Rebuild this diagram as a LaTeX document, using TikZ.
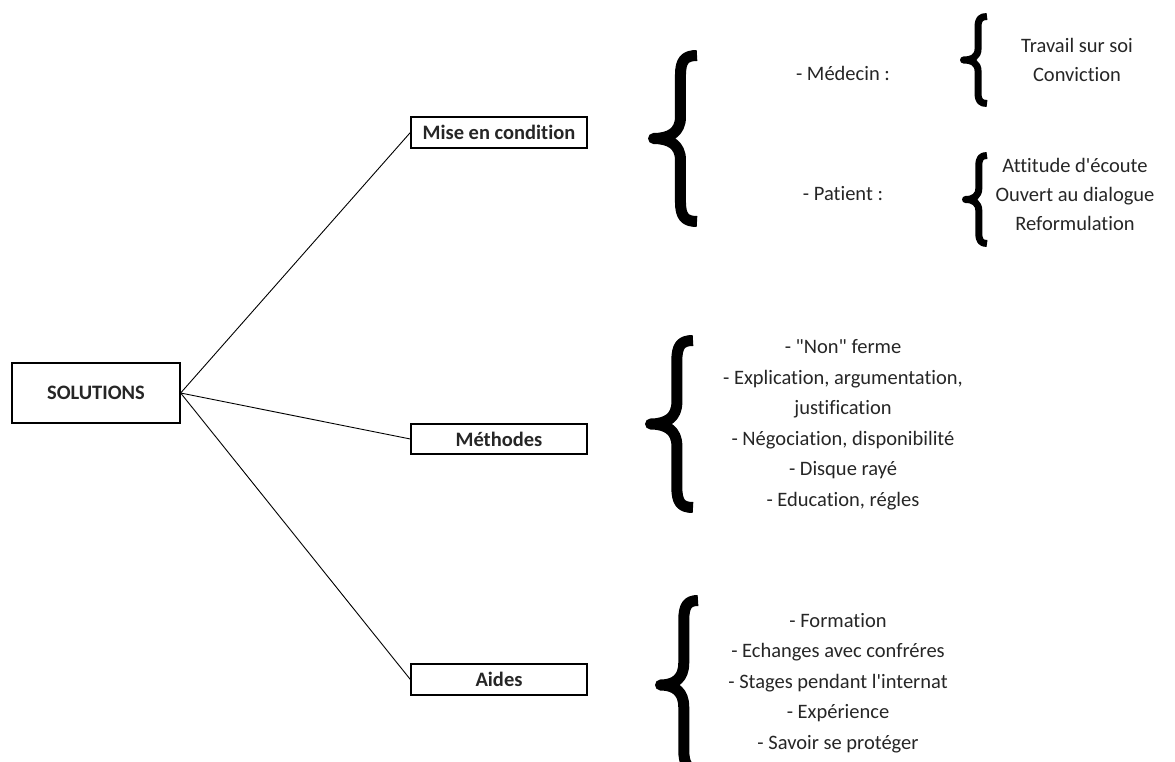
\documentclass[tikz,border=0pt]{standalone}
\usepackage{fontspec}
\newfontfamily\cf{Carlito}[Ligatures=NoCommon]
\definecolor{txt}{HTML}{262626}
\newcommand\drawbrace[5]{%
  \begin{scope}[shift={(#1,#2)}, xscale=#3, yscale=#4]
    \draw[bracestroke, line width=#5pt] (1,0) .. controls (0.72,0) and (0.62,0.03) .. (0.62,0.12)
      -- (0.62,0.37) .. controls (0.62,0.46) and (0.38,0.5) .. (0,0.5)
      .. controls (0.38,0.5) and (0.62,0.54) .. (0.62,0.63)
      -- (0.62,0.88) .. controls (0.62,0.97) and (0.72,1) .. (1,1);
  \end{scope}}
\begin{document}
\begin{tikzpicture}[x=1pt,y=-1pt,
  box/.style={draw=black, line width=1.3pt, inner sep=0pt, text=txt,
    font=\cf\bfseries\fontsize{20.5}{24}\selectfont},
  lbl/.style={text=txt, align=center, inner sep=0pt,
    font=\cf\fontsize{20.5}{30.5}\selectfont},
  lbls/.style={text=txt, align=center, inner sep=0pt,
    font=\cf\fontsize{20.5}{29}\selectfont},
  link/.style={line width=0.9pt, draw=black},
  bracestroke/.style={draw=black, line cap=butt, line join=round}
]
\useasboundingbox (0,0) rectangle (1175,762);
\begin{scope}
\clip (0,0) rectangle (1175,762);
% main boxes
\node[box, minimum width=168pt, minimum height=60pt] (sol) at (96,393) {SOLUTIONS};
\node[box, minimum width=176pt, minimum height=31pt] (mise) at (499,132.5) {Mise en condition};
\node[box, minimum width=176pt, minimum height=30pt] (meth) at (499,439) {Méthodes};
\node[box, minimum width=176pt, minimum height=31pt] (aides) at (499,679.5) {Aides};
\draw[link] (sol.east) -- (mise.west);
\draw[link] (sol.east) -- (meth.west);
\draw[link] (sol.east) -- (aides.west);
% big braces
\drawbrace{653.5}{55.5}{43.5}{166}{11}
\drawbrace{650.5}{340.5}{42.5}{167}{11}
\drawbrace{660.5}{600.5}{37.5}{169}{11}
% small braces
\drawbrace{963.5}{16.5}{23.5}{87}{7}
\drawbrace{965.5}{155.5}{21.5}{88}{7}
% labels
\node[lbl] (med) at (843,73) {- Médecin :};
\node[lbl] (pat) at (843,194) {- Patient :};
\node[lbls] (medl) at (1077,59.5) {Travail sur soi\\Conviction};
\node[lbls] (patl) at (1075,194.5) {Attitude d\textquotesingle écoute\\Ouvert au dialogue\\Reformulation};
\node[lbl] (methl) at (843,424.5) {- \textquotedbl Non\textquotedbl{} ferme\\- Explication, argumentation,\\justification\\- Négociation, disponibilité\\- Disque rayé\\- Education, régles};
\node[lbl] (aidl) at (838,683) {- Formation\\- Echanges avec confréres\\- Stages pendant l\textquotesingle internat\\- Expérience\\- Savoir se protéger};
\end{scope}
\end{tikzpicture}
\end{document}
